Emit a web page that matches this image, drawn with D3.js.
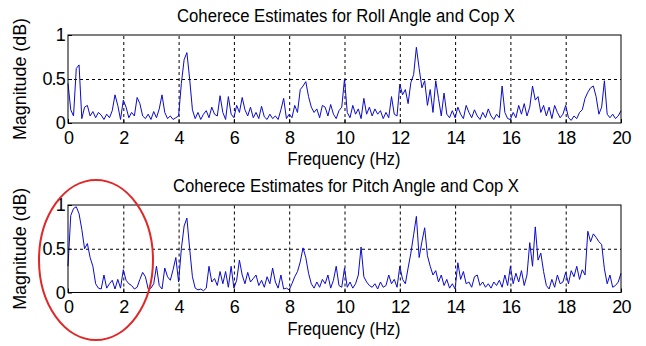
<!DOCTYPE html>
<html>
<head>
<meta charset="utf-8">
<script src="https://cdn.jsdelivr.net/npm/d3@7"></script>
<style>
  body { margin: 0; background: #fff; }
  text { font-family: "Liberation Sans", Arial, sans-serif; fill: #000; }
</style>
</head>
<body>
<div id="output"></div>
<script>
// coherence estimates, one value every 0.1 Hz from 0 to 20 Hz
var freqStep = 0.1;

var rollCoh = [
    0.45, 0.15, 0.08, 0.62, 0.66, 0.05, 0.18, 0.20, 0.08, 0.13,
    0.06, 0.12, 0.09, 0.04, 0.10, 0.06, 0.14, 0.32, 0.20, 0.04,
    0.26, 0.18, 0.06, 0.12, 0.08, 0.29, 0.22, 0.08, 0.05, 0.10,
    0.04, 0.13, 0.06, 0.16, 0.32, 0.12, 0.05, 0.08, 0.04, 0.06,
    0.08, 0.45, 0.72, 0.80, 0.50, 0.15, 0.05, 0.12, 0.04, 0.10,
    0.14, 0.06, 0.18, 0.10, 0.08, 0.31, 0.12, 0.04, 0.30, 0.10,
    0.06, 0.20, 0.12, 0.29, 0.15, 0.08, 0.18, 0.06, 0.12, 0.05,
    0.19, 0.07, 0.04, 0.10, 0.05, 0.08, 0.04, 0.15, 0.28, 0.05,
    0.10, 0.06, 0.20, 0.12, 0.38, 0.42, 0.47, 0.30, 0.18, 0.12,
    0.16, 0.06, 0.20, 0.18, 0.08, 0.21, 0.10, 0.05, 0.14, 0.18,
    0.50, 0.12, 0.06, 0.20, 0.10, 0.16, 0.05, 0.28, 0.10, 0.18,
    0.08, 0.16, 0.10, 0.14, 0.05, 0.12, 0.06, 0.30, 0.10, 0.08,
    0.44, 0.32, 0.38, 0.22, 0.46, 0.55, 0.86, 0.62, 0.40, 0.48,
    0.20, 0.38, 0.12, 0.48, 0.28, 0.08, 0.34, 0.10, 0.06, 0.14,
    0.06, 0.18, 0.10, 0.05, 0.20, 0.12, 0.06, 0.15, 0.08, 0.04,
    0.12, 0.06, 0.16, 0.08, 0.04, 0.10, 0.06, 0.42, 0.12, 0.05,
    0.04, 0.12, 0.06, 0.20, 0.10, 0.22, 0.08, 0.18, 0.42, 0.26,
    0.30, 0.12, 0.20, 0.08, 0.18, 0.05, 0.20, 0.12, 0.06, 0.10,
    0.20, 0.06, 0.03, 0.08, 0.05, 0.12, 0.15, 0.28, 0.35, 0.40,
    0.42, 0.30, 0.10, 0.18, 0.48, 0.10, 0.06, 0.10, 0.05, 0.08,
    0.14
];

var pitchCoh = [
    0.30, 0.88, 0.96, 0.98, 0.90, 0.72, 0.50, 0.56, 0.40, 0.30,
    0.10, 0.05, 0.04, 0.20, 0.05, 0.10, 0.14, 0.04, 0.15, 0.05,
    0.26, 0.14, 0.10, 0.08, 0.04, 0.06, 0.15, 0.23, 0.18, 0.04,
    0.05, 0.10, 0.30, 0.08, 0.04, 0.28, 0.18, 0.14, 0.26, 0.40,
    0.12, 0.50, 0.76, 0.85, 0.50, 0.18, 0.05, 0.03, 0.04, 0.02,
    0.05, 0.30, 0.12, 0.16, 0.08, 0.24, 0.10, 0.24, 0.06, 0.30,
    0.05, 0.14, 0.37, 0.20, 0.10, 0.23, 0.12, 0.16, 0.20, 0.08,
    0.14, 0.06, 0.18, 0.10, 0.28, 0.12, 0.05, 0.20, 0.04, 0.05,
    0.03, 0.10, 0.18, 0.24, 0.35, 0.51, 0.40, 0.22, 0.10, 0.05,
    0.12, 0.06, 0.15, 0.10, 0.20, 0.05, 0.14, 0.30, 0.08, 0.06,
    0.28, 0.06, 0.12, 0.05, 0.10, 0.20, 0.52, 0.18, 0.12, 0.08,
    0.06, 0.10, 0.04, 0.12, 0.06, 0.08, 0.20, 0.10, 0.15, 0.06,
    0.30, 0.15, 0.10, 0.28, 0.45, 0.66, 0.87, 0.40, 0.58, 0.74,
    0.42, 0.30, 0.20, 0.25, 0.12, 0.20, 0.08, 0.15, 0.05, 0.10,
    0.04, 0.34, 0.15, 0.24, 0.10, 0.12, 0.06, 0.18, 0.20, 0.08,
    0.12, 0.06, 0.10, 0.05, 0.12, 0.08, 0.14, 0.06, 0.20, 0.08,
    0.30, 0.10, 0.22, 0.12, 0.25, 0.08, 0.20, 0.57, 0.30, 0.75,
    0.37, 0.45, 0.24, 0.08, 0.04, 0.15, 0.06, 0.20, 0.10, 0.12,
    0.23, 0.10, 0.25, 0.18, 0.30, 0.15, 0.26, 0.20, 0.70, 0.58,
    0.67, 0.63, 0.58, 0.55, 0.27, 0.10, 0.20, 0.06, 0.08, 0.12,
    0.22
];

var titles = [
    "Coherece Estimates for Roll Angle and Cop X",
    "Coherece Estimates for Pitch Angle and Cop X"
];
var xTicks = [0, 2, 4, 6, 8, 10, 12, 14, 16, 18, 20];
var yTicks = [0, 0.5, 1];
var xLabel = "Frequency (Hz)";
var yLabel = "Magnitude (dB)";

var w = 646;
var h = 346;

var panels = [
    {title: titles[0], titleLen: 338, data: rollCoh, top: 35, bottom: 123},
    {title: titles[1], titleLen: 346, data: pitchCoh, top: 205, bottom: 292.5}
];

var svg = d3.select("#output").append("svg")
    .attr("width", w)
    .attr("height", h);

var x = d3.scaleLinear()
    .domain([0, 20])
    .range([68, 621]);

panels.forEach(function (p) {
    var y = d3.scaleLinear()
        .domain([0, 1])
        .range([p.bottom, p.top]);

    var g = svg.append("g");

    // dashed grid
    g.append("g")
        .attr("transform", "translate(0," + p.bottom + ")")
        .call(d3.axisBottom(x).tickValues(xTicks.slice(1, -1))
            .tickSize(-(p.bottom - p.top)).tickFormat(""))
        .call(function (s) {
            s.select(".domain").remove();
            s.selectAll("line").attr("stroke", "#000").attr("stroke-dasharray", "3,3");
        });

    g.append("g")
        .attr("transform", "translate(" + x.range()[0] + ",0)")
        .call(d3.axisLeft(y).tickValues([0.5])
            .tickSize(-(x.range()[1] - x.range()[0])).tickFormat(""))
        .call(function (s) {
            s.select(".domain").remove();
            s.selectAll("line").attr("stroke", "#000").attr("stroke-dasharray", "3,3");
        });

    var line = d3.line()
        .x(function (d, i) { return x(i * freqStep); })
        .y(function (d) { return y(d); });

    g.append("path")
        .datum(p.data)
        .attr("d", line)
        .attr("fill", "none")
        .attr("stroke", "#0a0ad0")
        .attr("stroke-width", 1);

    g.append("rect")
        .attr("x", x.range()[0])
        .attr("y", p.top)
        .attr("width", x.range()[1] - x.range()[0])
        .attr("height", p.bottom - p.top)
        .attr("fill", "none")
        .attr("stroke", "#000");

    // tick labels
    g.append("g")
        .attr("transform", "translate(0," + p.bottom + ")")
        .call(d3.axisBottom(x).tickValues(xTicks).tickSizeInner(-4).tickSizeOuter(0)
            .tickPadding(8).tickFormat(d3.format("d")))
        .call(function (s) {
            s.select(".domain").remove();
            s.selectAll("line").attr("stroke", "#000");
            s.selectAll("text").attr("font-size", 18).attr("letter-spacing", -0.8)
                .attr("font-family", "Liberation Sans, Arial, sans-serif");
        });

    g.append("g")
        .attr("transform", "translate(" + x.range()[0] + ",0)")
        .call(d3.axisLeft(y).tickValues(yTicks).tickSizeInner(-4).tickSizeOuter(0)
            .tickPadding(3).tickFormat(function (d) { return d; }))
        .call(function (s) {
            s.select(".domain").remove();
            s.selectAll("line").attr("stroke", "#000");
            s.selectAll("text").attr("font-size", 18).attr("letter-spacing", -0.8)
                .attr("font-family", "Liberation Sans, Arial, sans-serif");
        });

    g.append("text")
        .attr("x", 346)
        .attr("y", p.top - 13)
        .attr("text-anchor", "middle")
        .attr("font-size", 18)
        .attr("textLength", p.titleLen)
        .attr("lengthAdjust", "spacingAndGlyphs")
        .text(p.title);

    g.append("text")
        .attr("x", 344)
        .attr("y", p.bottom + 42)
        .attr("text-anchor", "middle")
        .attr("font-size", 18)
        .attr("textLength", 113)
        .attr("lengthAdjust", "spacingAndGlyphs")
        .text(xLabel);

    g.append("text")
        .attr("transform", "translate(26," + (p.top + p.bottom) / 2 + ") rotate(-90)")
        .attr("text-anchor", "middle")
        .attr("font-size", 18)
        .attr("textLength", 122)
        .attr("lengthAdjust", "spacingAndGlyphs")
        .text(yLabel);
});

// red ellipse annotation around the low-frequency peak
svg.append("ellipse")
    .attr("cx", 96)
    .attr("cy", 260)
    .attr("rx", 57)
    .attr("ry", 80)
    .attr("fill", "none")
    .attr("stroke", "#e02828")
    .attr("stroke-width", 2);
</script>
</body>
</html>
